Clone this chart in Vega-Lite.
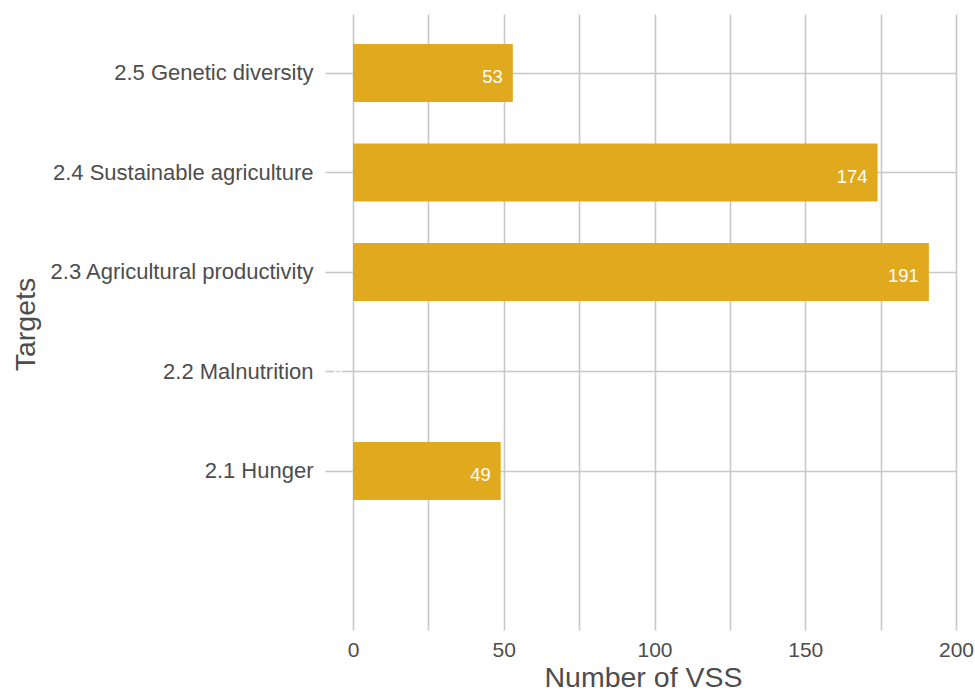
{
  "$schema": "https://vega.github.io/schema/vega-lite/v6.json",
  "width": 603,
  "height": 616,
  "autosize": {"type": "none"},
  "padding": {"left": 353, "top": 14, "right": 19, "bottom": 63},
  "background": "white",
  "config": {
    "view": {"stroke": null},
    "font": "Liberation Sans"
  },
  "data": {
    "values": [
      {"target": "2.1 Hunger", "count": 49},
      {"target": "2.2 Malnutrition", "count": 0},
      {"target": "2.3 Agricultural productivity", "count": 191},
      {"target": "2.4 Sustainable agriculture", "count": 174},
      {"target": "2.5 Genetic diversity", "count": 53}
    ]
  },
  "encoding": {
    "y": {
      "field": "target",
      "type": "nominal",
      "sort": ["2.5 Genetic diversity", "2.4 Sustainable agriculture", "2.3 Agricultural productivity", "2.2 Malnutrition", "2.1 Hunger"],
      "scale": {"paddingInner": 0.417, "paddingOuter": 0.804, "align": 0.1875},
      "axis": {
        "title": "Targets",
        "titleFontSize": 28.5,
        "titleFontWeight": "normal",
        "titleColor": "#4d4d4d",
        "titleX": -328,
        "titleY": 310,
        "titleAngle": -90,
        "titleAlign": "center",
        "titleBaseline": "middle",
        "labelFontSize": 22,
        "labelLimit": 400,
        "labelColor": "#4d4d4d",
        "labelPadding": 12,
        "tickSize": 28,
        "tickColor": "#c8c8c8",
        "tickWidth": 1.6,
        "domain": false,
        "grid": true,
        "gridColor": "#c8c8c8",
        "gridWidth": 1.6
      }
    },
    "x": {
      "field": "count",
      "type": "quantitative",
      "scale": {"domain": [0, 200], "nice": false},
      "axis": {
        "title": "Number of VSS",
        "titleFontSize": 28.5,
        "titleFontWeight": "normal",
        "titleColor": "#4d4d4d",
        "titlePadding": 3,
        "titleX": 290,
        "values": [0, 25, 50, 75, 100, 125, 150, 175, 200],
        "labelExpr": "datum.value % 50 == 0 ? datum.label : ''",
        "labelFontSize": 21,
        "labelFlush": false,
        "labelColor": "#4d4d4d",
        "labelPadding": 9,
        "ticks": false,
        "domain": false,
        "grid": true,
        "gridColor": "#c8c8c8",
        "gridWidth": 1.6
      }
    }
  },
  "layer": [
    {"mark": {"type": "bar", "color": "#E1A91D"}},
    {
      "mark": {"type": "text", "align": "right", "dx": -10, "fontSize": 18.5, "color": "white", "baseline": "middle", "dy": 4},
      "encoding": {"text": {"field": "count", "type": "quantitative"}}
    }
  ]
}
